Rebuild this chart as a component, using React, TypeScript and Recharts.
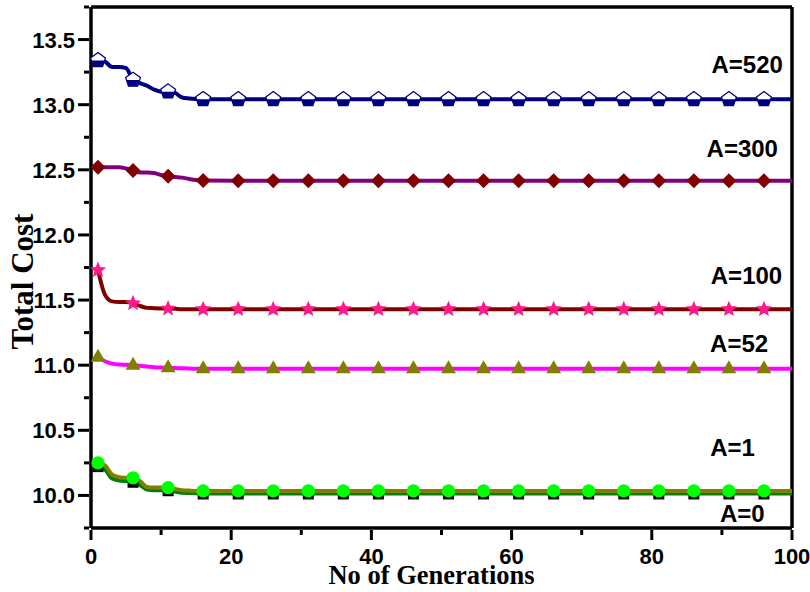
import { LineChart, Line, XAxis, YAxis, ReferenceLine, ReferenceDot } from 'recharts';

const generations = [1, 2, 3, 4, 5, 6, 7, 8, 9, 10, 11, 12, 13, 14, 15, 16, 21, 26, 31, 36, 41, 46, 51, 56, 61, 66, 71, 76, 81, 86, 91, 96, 100];

const costA0 = [10.225, 10.2, 10.13, 10.115, 10.11, 10.105, 10.08, 10.045, 10.04, 10.04, 10.04, 10.03, 10.02, 10.018, 10.016, 10.015, 10.015, 10.015, 10.015, 10.015, 10.015, 10.015, 10.015, 10.015, 10.015, 10.015, 10.015, 10.015, 10.015, 10.015, 10.015, 10.015, 10.015];
const costA1 = [10.25, 10.23, 10.16, 10.14, 10.135, 10.135, 10.11, 10.065, 10.06, 10.06, 10.06, 10.05, 10.04, 10.037, 10.035, 10.035, 10.035, 10.035, 10.035, 10.035, 10.035, 10.035, 10.035, 10.035, 10.035, 10.035, 10.035, 10.035, 10.035, 10.035, 10.035, 10.035, 10.035];
const costA52 = [11.06, 11.03, 11.012, 11.005, 11.003, 11.0, 10.995, 10.99, 10.985, 10.982, 10.98, 10.978, 10.976, 10.974, 10.973, 10.972, 10.972, 10.972, 10.972, 10.972, 10.972, 10.972, 10.972, 10.972, 10.972, 10.972, 10.972, 10.972, 10.972, 10.972, 10.972, 10.972, 10.972];
const costA100 = [11.73, 11.54, 11.49, 11.485, 11.485, 11.475, 11.455, 11.44, 11.438, 11.436, 11.435, 11.433, 11.43, 11.43, 11.43, 11.43, 11.43, 11.43, 11.43, 11.43, 11.43, 11.43, 11.43, 11.43, 11.43, 11.43, 11.43, 11.43, 11.43, 11.43, 11.43, 11.43, 11.43];
const costA300 = [12.52, 12.52, 12.52, 12.52, 12.51, 12.495, 12.48, 12.48, 12.475, 12.46, 12.45, 12.445, 12.44, 12.43, 12.422, 12.418, 12.416, 12.416, 12.416, 12.416, 12.416, 12.416, 12.416, 12.416, 12.416, 12.416, 12.416, 12.416, 12.416, 12.416, 12.416, 12.416, 12.416];
const costA520 = [13.34, 13.33, 13.29, 13.29, 13.28, 13.19, 13.165, 13.145, 13.115, 13.1, 13.1, 13.09, 13.055, 13.048, 13.044, 13.042, 13.041, 13.041, 13.041, 13.041, 13.041, 13.041, 13.041, 13.041, 13.041, 13.041, 13.041, 13.041, 13.041, 13.041, 13.041, 13.041, 13.041];

const xTicks = [0, 10, 20, 30, 40, 50, 60, 70, 80, 90, 100];
const yTicks = [9.75, 10, 10.25, 10.5, 10.75, 11, 11.25, 11.5, 11.75, 12, 12.25, 12.5, 12.75, 13, 13.25, 13.5, 13.75];

const seriesLabels = [
  { text: 'A=520', x: 98.7, y: 13.312 },
  { text: 'A=300', x: 98.0, y: 12.667 },
  { text: 'A=100', x: 98.6, y: 11.692 },
  { text: 'A=52', x: 96.6, y: 11.17 },
  { text: 'A=1', x: 94.7, y: 10.372 },
  { text: 'A=0', x: 96.1, y: 9.865 },
];

const data = generations.map((gen, i) => ({
  gen,
  a0: costA0[i],
  a1: costA1[i],
  a52: costA52[i],
  a100: costA100[i],
  a300: costA300[i],
  a520: costA520[i],
}));

const sans = 'Arial, "Liberation Sans", sans-serif';
const serif = '"Times New Roman", "Liberation Serif", serif';

const isMarker = (gen: number) => (gen - 1) % 5 === 0 && gen <= 96;

// marker shapes
function makeDot(kind: string) {
  return (props: any) => {
    const { cx, cy, payload, index } = props;
    const k = `${kind}-${index}`;
    if (!isMarker(payload.gen) || cx == null) return <g key={k} />;
    if (kind === 'square') {
      return <rect key={k} x={cx - 5.5} y={cy - 5} width={11} height={11} fill="#000" />;
    }
    if (kind === 'circle') {
      return <circle key={k} cx={cx} cy={cy} r={6.7} fill="#00ff00" />;
    }
    if (kind === 'triangle') {
      return <polygon key={k} points={`${cx},${cy - 8.5} ${cx + 7.5},${cy + 4.5} ${cx - 7.5},${cy + 4.5}`} fill="#808000" />;
    }
    if (kind === 'star') {
      const pts: string[] = [];
      for (let j = 0; j < 10; j++) {
        const r = j % 2 === 0 ? 8.5 : 3.8;
        const a = -Math.PI / 2 + (j * Math.PI) / 5;
        pts.push(`${cx + r * Math.cos(a)},${cy + r * Math.sin(a)}`);
      }
      return <polygon key={k} points={pts.join(' ')} fill="#ff1a8c" />;
    }
    if (kind === 'diamond') {
      return <polygon key={k} points={`${cx},${cy - 7.5} ${cx + 7.5},${cy} ${cx},${cy + 7.5} ${cx - 7.5},${cy}`} fill="#800000" />;
    }
    // half filled pentagon
    const R = 7.8;
    const v = [0, 1, 2, 3, 4].map((j) => {
      const a = -Math.PI / 2 + (j * 2 * Math.PI) / 5;
      return [cx + R * Math.cos(a), cy + R * Math.sin(a)];
    });
    const full = v.map((p) => p.join(',')).join(' ');
    const t = (cy - v[1][1]) / (v[2][1] - v[1][1]);
    const xr = v[1][0] + (v[2][0] - v[1][0]) * t;
    const xl = 2 * cx - xr;
    const top = `${v[0].join(',')} ${v[1].join(',')} ${xr},${cy} ${xl},${cy} ${v[4].join(',')}`;
    return (
      <g key={k}>
        <polygon points={full} fill="#000080" />
        <polygon points={top} fill="#fff" />
        <polygon points={full} fill="none" stroke="#000080" strokeWidth={1.2} />
      </g>
    );
  };
}

const XTick = (props: any) => {
  const { x, y, payload } = props;
  const major = payload.value % 20 === 0;
  return (
    <g>
      <line x1={x} y1={y} x2={x} y2={y + (major ? 10 : 5)} stroke="#000" strokeWidth={3} />
      {major && (
        <text x={x} y={y + 34} textAnchor="middle" fontFamily={sans} fontWeight="bold" fontSize={22} fill="#000">
          {payload.value}
        </text>
      )}
    </g>
  );
};

const YTick = (props: any) => {
  const { x, y, payload } = props;
  const major = Math.abs(payload.value * 2 - Math.round(payload.value * 2)) < 1e-6;
  return (
    <g>
      <line x1={x} y1={y} x2={x - (major ? 11 : 5)} y2={y} stroke="#000" strokeWidth={3} />
      {major && (
        <text x={x - 14} y={y + 8} textAnchor="end" fontFamily={sans} fontWeight="bold" fontSize={22} fill="#000">
          {payload.value.toFixed(1)}
        </text>
      )}
    </g>
  );
};

const series = [
  { key: 'a0', color: '#008000', dot: 'square' },
  { key: 'a1', color: '#808000', dot: 'circle' },
  { key: 'a52', color: '#ff00ff', dot: 'triangle' },
  { key: 'a100', color: '#800000', dot: 'star' },
  { key: 'a300', color: '#800080', dot: 'diamond' },
  { key: 'a520', color: '#000080', dot: 'pentagon' },
];

export default function App() {
  return (
    <div style={{ position: 'absolute', left: 0, top: 0, background: '#fff' }}>
      <LineChart width={810} height={592} data={data} margin={{ top: 7, right: 18, left: 0, bottom: 0 }}>
        <XAxis
          dataKey="gen"
          type="number"
          domain={[0, 100]}
          ticks={xTicks}
          interval={0}
          tickSize={0}
          tickLine={false}
          tick={<XTick />}
          height={64}
          axisLine={{ stroke: '#000', strokeWidth: 3.5 }}
          label={{
            content: (p: any) => (
              <text
                x={p.viewBox.x + p.viewBox.width / 2 - 10}
                y={p.viewBox.y + 56}
                textAnchor="middle"
                fontFamily={serif}
                fontWeight="bold"
                fontSize={26.5}
                fill="#000"
              >
                No of Generations
              </text>
            ),
          }}
        />
        <YAxis
          type="number"
          domain={[9.75, 13.75]}
          ticks={yTicks}
          interval={0}
          tickSize={0}
          tickLine={false}
          tick={<YTick />}
          width={91}
          axisLine={{ stroke: '#000', strokeWidth: 3.5 }}
          label={{
            content: (p: any) => {
              const bx = p.viewBox.x + 33;
              const cy = p.viewBox.y + p.viewBox.height / 2 + 14;
              return (
                <text
                  x={bx}
                  y={cy}
                  transform={`rotate(-90 ${bx} ${cy})`}
                  textAnchor="middle"
                  fontFamily={serif}
                  fontWeight="bold"
                  fontSize={31}
                  fill="#000"
                >
                  Total Cost
                </text>
              );
            },
          }}
        />
        <ReferenceLine y={13.75} stroke="#000" strokeWidth={3.5} ifOverflow="visible" />
        <ReferenceLine x={100} stroke="#000" strokeWidth={3.5} ifOverflow="visible" />
        {series.map((s) => (
          <Line
            key={s.key}
            dataKey={s.key}
            type="monotone"
            stroke={s.color}
            strokeWidth={4}
            dot={makeDot(s.dot)}
            activeDot={false}
            isAnimationActive={false}
          />
        ))}
        {seriesLabels.map((l) => (
          <ReferenceDot
            key={l.text}
            x={l.x}
            y={l.y}
            r={0}
            ifOverflow="visible"
            shape={(p: any) => (
              <text
                x={p.cx}
                y={p.cy}
                dy="0.36em"
                textAnchor="end"
                fontFamily={sans}
                fontWeight="bold"
                fontSize={24}
                fill="#000"
              >
                {l.text}
              </text>
            )}
          />
        ))}
      </LineChart>
    </div>
  );
}
